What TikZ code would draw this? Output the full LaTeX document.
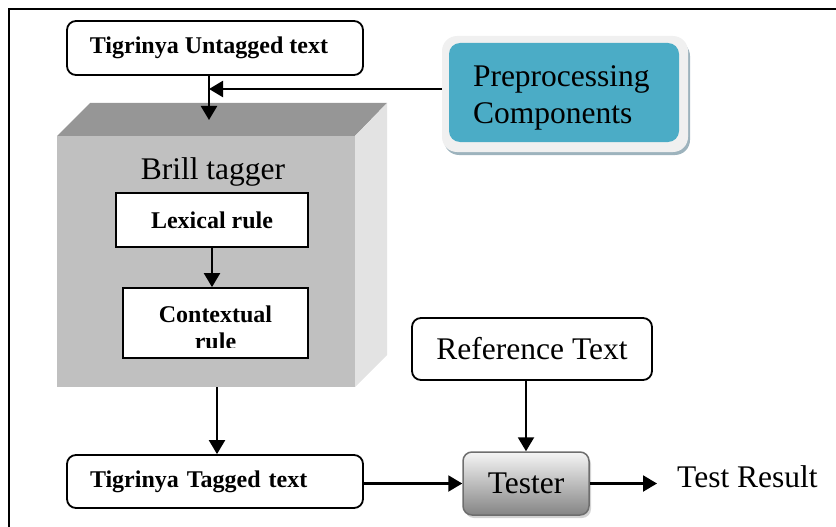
\documentclass[tikz,border=0pt]{standalone}
\usepackage{fontspec}
\setmainfont{Liberation Serif}
\usetikzlibrary{arrows.meta,shadows,calc}
\definecolor{frontgray}{HTML}{C0C0C0}
\definecolor{topgray}{HTML}{969696}
\definecolor{sidegray}{HTML}{E3E3E3}
\definecolor{tealfill}{HTML}{4BACC6}
\definecolor{rimgray}{HTML}{F0F0F0}
\definecolor{rimshadow}{HTML}{9DB3BD}
\begin{document}
\begin{tikzpicture}[x=1pt,y=-1pt,
  arr/.style={line width=2.2pt,-{Triangle[length=14pt,width=16pt]}},
  bfs/.style={font=\fontsize{24}{27}\selectfont\bfseries},
  rms/.style={font=\fontsize{31.5}{37}\selectfont},
  textbox/.style={draw, line width=1.8pt, rounded corners=9pt, fill=white, inner sep=0pt},
  rulebox/.style={draw, line width=1.8pt, fill=white, inner sep=0pt},
]
\useasboundingbox (0,0) rectangle (836,527);

% outer frame
\draw[line width=1.5pt] (9,527) -- (9,9) -- (836,9);

% Brill tagger block drawn as a shaded box
\coordinate (ftl) at (57,136);
\coordinate (ftr) at (355,136);
\coordinate (fbl) at (57,387);
\coordinate (fbr) at (355,387);
\coordinate (btl) at (90,103);
\coordinate (btr) at (387,103);
\coordinate (bbr) at (387,355);
\fill[topgray] (ftl) -- (btl) -- (btr) -- (ftr) -- cycle;
\fill[sidegray] (ftr) -- (btr) -- (bbr) -- (fbr) -- cycle;
\fill[frontgray] (ftl) rectangle (fbr);
\node[rms] (brill) at (213,172) {Brill tagger};

\node[rulebox, bfs, minimum width=192pt, minimum height=54pt] (lex) at (212,220) {Lexical rule};
\node[rulebox, minimum width=185pt, minimum height=70pt] (cont) at (215.5,323) {};
\begin{scope}
  \clip (cont.north west) rectangle ($(cont.east)+(0,24)$);
  \node[bfs, align=center, inner sep=0pt] (conttext) at (215.5,328) {Contextual\\rule};
\end{scope}
\draw[arr] (lex.south) -- (lex.south |- cont.north);

% input text and preprocessing
\node[textbox, bfs, minimum width=296pt, minimum height=54pt] (untag) at (215,48) {\hspace*{-12pt}Tigrinya Untagged text};

\fill[rimshadow, rounded corners=15pt] (444,41) rectangle (690,155);
\fill[rimgray, rounded corners=15pt] (442,36) rectangle (688,152);
\node[fill=tealfill, rounded corners=11pt, minimum width=230pt, minimum height=99pt,
      rms, align=left, text width=182pt, inner sep=0pt] (prep) at (564,92.5)
      {\rule{0pt}{31pt}Preprocessing\\Components};

\coordinate (join) at (209,89);
\coordinate (topin) at (209,120);
\draw[arr] (untag.south -| topin) -- (topin);
\draw[arr] (join -| 442,0) -- (join);

% output side
\coordinate (cubeout) at (217,387);
\node[textbox, bfs, minimum height=53pt, inner xsep=23pt, text width=250pt, align=left] (tagged) at (215,481.5) {Tigrinya Tagged text};
\draw[arr] (cubeout) -- (cubeout |- tagged.north);

\node[textbox, rms, minimum width=240pt, minimum height=62pt] (ref) at (532,349) {Reference Text};
\node[draw=black!57, line width=1.5pt, rounded corners=9pt, top color=black!4, bottom color=black!48,
      minimum width=126pt, minimum height=63pt, rms, inner sep=0pt,
      drop shadow={opacity=0.35, shadow xshift=2pt, shadow yshift=-3pt}] (tester) at (526,483.5) {Tester};
\node[rms, anchor=west, inner sep=0pt] (result) at (677,477) {Test Result};

\draw[arr] (ref.south -| tester.north) -- (tester.north);
\draw[arr] (tagged.east |- tester.west) -- (tester.west);
\draw[arr, shorten >=20pt] (tester.east) -- (tester.east -| result.west);
\end{tikzpicture}
\end{document}
